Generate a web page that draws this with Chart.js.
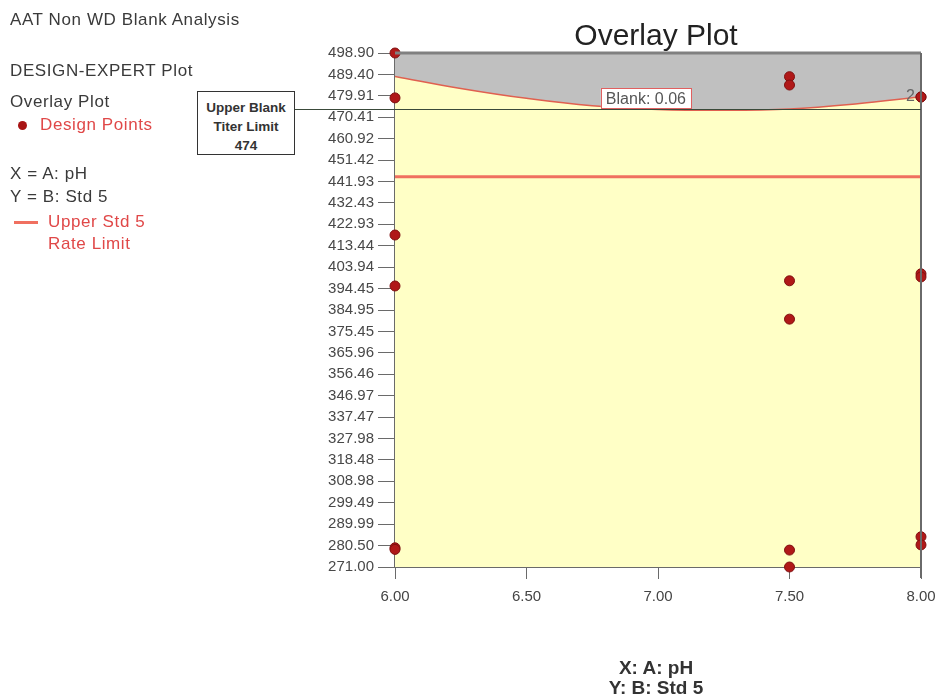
<!DOCTYPE html>
<html>
<head>
<meta charset="utf-8">
<script src="https://cdn.jsdelivr.net/npm/chart.js@4.4.0/dist/chart.umd.min.js"></script>
<style>
  body { margin: 0; background: #fff; font-family: "Liberation Sans", Arial, sans-serif; }
  #wrap { position: relative; width: 936px; height: 700px; }
  canvas { position: absolute; left: 0; top: 0; }
  .t { position: absolute; white-space: nowrap; color: #3a3a3a; font-size: 17px; line-height: 20px; letter-spacing: 0.6px; }
  .red { color: #e04848; }
  #box { position: absolute; left: 197px; top: 91px; width: 98px; height: 64px; border: 1px solid #333;
         background: #fff; font-size: 13.5px; font-weight: bold; color: #333; text-align: center; line-height: 19px; padding-top: 6px; box-sizing: border-box; }
  #title { position: absolute; left: 506px; width: 300px; top: 20px; line-height: 30px; text-align: center; font-size: 30px; color: #222; }
  .axt { position: absolute; left: 506px; width: 300px; text-align: center; font-size: 19px; line-height: 20px; font-weight: bold; color: #333; }
</style>
</head>
<body>
<div id="wrap">
  <canvas id="chart" width="936" height="700"></canvas>
  <div class="t" style="left:10px;top:10px">AAT Non WD Blank Analysis</div>
  <div class="t" style="left:10px;top:61px">DESIGN-EXPERT Plot</div>
  <div class="t" style="left:10px;top:92px">Overlay Plot</div>
  <div style="position:absolute;left:18px;top:121px;width:9px;height:9px;border-radius:50%;background:#a81414"></div>
  <div class="t red" style="left:40px;top:115px">Design Points</div>
  <div class="t" style="left:10px;top:164px">X = A: pH</div>
  <div class="t" style="left:10px;top:187px">Y = B: Std 5</div>
  <div style="position:absolute;left:14px;top:221px;width:24px;height:3px;background:#f07060"></div>
  <div class="t red" style="left:48px;top:212px">Upper Std 5</div>
  <div class="t red" style="left:48px;top:234px">Rate Limit</div>
  <div id="box">Upper Blank<br>Titer Limit<br>474</div>
  <div id="title">Overlay Plot</div>
  <div class="axt" style="top:658px">X: A: pH</div>
  <div class="axt" style="top:678px">Y: B: Std 5</div>
</div>
<script>
// tick labels
const xTickLabels = ['6.00', '6.50', '7.00', '7.50', '8.00'];
const yTickLabels = ['271.00', '280.50', '289.99', '299.49', '308.98', '318.48', '327.98', '337.47',
  '346.97', '356.46', '365.96', '375.45', '384.95', '394.45', '403.94', '413.44', '422.93', '432.43',
  '441.93', '451.42', '460.92', '470.41', '479.91', '489.40', '498.90'];

// design points (pH, Std 5)
const pointsPH =  [6.00, 6.00, 6.00, 6.00, 6.00, 6.00, 7.50, 7.50, 7.50, 7.50, 7.50, 7.50, 8.00, 8.00, 8.00, 8.00, 8.00, 8.00];
const pointsStd = [498.9, 479.0, 418.2, 395.6, 279.5, 278.8, 488.4, 484.7, 397.9, 380.9, 278.5, 271.0, 479.4, 479.4, 401.0, 399.6, 284.4, 280.8];

// upper blank titer limit contour (Blank 0.06)
const blankPH =  [6.00, 6.25, 6.50, 6.75, 7.00, 7.25, 7.50, 7.75, 8.00];
const blankStd = [488.5, 483.2, 478.8, 475.5, 473.9, 473.5, 474.1, 476.3, 479.5];

// upper std 5 rate limit
const stdLimitPH = [6.00, 8.00];
const stdLimit = [444.0, 444.0];
const blankLimit = 474;

const yMin = parseFloat(yTickLabels[0]);
const yMax = parseFloat(yTickLabels[yTickLabels.length - 1]);

const zip = (xs, ys) => xs.map((x, i) => ({ x: x, y: ys[i] }));

const overlay = {
    id: 'overlay',
    beforeDatasetsDraw(chart) {
        const { ctx, chartArea: a } = chart;
        ctx.save();
        ctx.fillStyle = '#ffffc6';
        ctx.fillRect(a.left, a.top, a.right - a.left, a.bottom - a.top);
        ctx.restore();
    },
    afterDatasetsDraw(chart) {
        const { ctx, chartArea: a, scales } = chart;
        const xs = scales.x, ys = scales.y;
        ctx.save();
        // frame top/right
        ctx.strokeStyle = '#808080';
        ctx.lineWidth = 3;
        ctx.beginPath();
        ctx.moveTo(a.left, a.top);
        ctx.lineTo(a.right, a.top);
        ctx.stroke();
        ctx.lineWidth = 2;
        ctx.strokeStyle = '#6a6a6a';
        ctx.beginPath();
        ctx.moveTo(a.right, a.top);
        ctx.lineTo(a.right, a.bottom + 11);
        ctx.stroke();
        // upper blank limit line from box
        const box = document.getElementById('box');
        const bx = box.offsetLeft + box.offsetWidth;
        const y474 = Math.round(ys.getPixelForValue(blankLimit)) + 0.5;
        ctx.strokeStyle = '#3a4a3a';
        ctx.lineWidth = 1;
        ctx.beginPath();
        ctx.moveTo(bx, y474);
        ctx.lineTo(a.right, y474);
        ctx.stroke();
        // Blank label
        const lx = xs.getPixelForValue(6.954), ly = ys.getPixelForValue(blankLimit) - 11;
        ctx.font = '16px "Liberation Sans", Arial';
        const txt = 'Blank: 0.06';
        const w = ctx.measureText(txt).width + 10;
        ctx.fillStyle = '#fff';
        ctx.fillRect(lx - w / 2, ly - 10, w, 20);
        ctx.strokeStyle = '#e06060';
        ctx.strokeRect(Math.round(lx - w / 2) + 0.5, Math.round(ly - 10) + 0.5, Math.round(w), 20);
        ctx.fillStyle = '#555';
        ctx.textAlign = 'center';
        ctx.textBaseline = 'middle';
        ctx.fillText(txt, lx, ly + 1);
        // "2" marker for duplicated point
        ctx.font = '16px "Liberation Sans", Arial';
        ctx.fillStyle = '#666';
        ctx.textAlign = 'right';
        ctx.fillText('2', xs.getPixelForValue(8.0) - 6, ys.getPixelForValue(479.4));
        ctx.restore();
    }
};

new Chart(document.getElementById('chart'), {
    type: 'scatter',
    data: {
        datasets: [{
            label: 'Design Points',
            data: zip(pointsPH, pointsStd),
            backgroundColor: '#b01818',
            borderColor: '#801010',
            borderWidth: 1,
            pointRadius: 5,
            clip: false,
            order: 0
        }, {
            label: 'Upper Std 5 Rate Limit',
            type: 'line',
            data: zip(stdLimitPH, stdLimit),
            borderColor: '#f07060',
            borderWidth: 3,
            pointRadius: 0,
            fill: false,
            order: 1
        }, {
            label: 'Blank 0.06',
            type: 'line',
            data: zip(blankPH, blankStd),
            borderColor: '#e06050',
            borderWidth: 1.5,
            backgroundColor: '#c0c0c0',
            pointRadius: 0,
            tension: 0.4,
            fill: 'end',
            order: 2
        }]
    },
    options: {
        responsive: false,
        animation: false,
        layout: { padding: { left: 0, right: 15, top: 53, bottom: 93 } },
        plugins: { legend: { display: false }, tooltip: { enabled: false } },
        scales: {
            x: {
                type: 'linear',
                min: 6, max: 8,
                afterBuildTicks: s => { s.ticks = xTickLabels.map(v => ({ value: parseFloat(v) })); },
                afterFit: s => { s.height = 40; s.paddingLeft = 0; s.paddingRight = 0; },
                ticks: {
                    callback: (v, i) => xTickLabels[i],
                    color: '#444',
                    font: { family: '"Liberation Sans", Arial', size: 15 },
                    padding: 9,
                    maxRotation: 0
                },
                grid: { drawOnChartArea: false, drawTicks: true, tickLength: 12, color: '#6a6a6a' },
                border: { display: true, color: '#6a6a6a', width: 2 }
            },
            y: {
                type: 'linear',
                min: yMin, max: yMax,
                afterBuildTicks: s => { s.ticks = yTickLabels.map(v => ({ value: parseFloat(v) })); },
                afterFit: s => { s.width = 395; },
                ticks: {
                    callback: (v, i) => yTickLabels[i],
                    color: '#484848',
                    font: { family: '"Liberation Sans", Arial', size: 15 },
                    padding: 4,
                    autoSkip: false
                },
                grid: { drawOnChartArea: false, drawTicks: true, tickLength: 17, color: '#6a6a6a' },
                border: { display: true, color: '#6a6a6a', width: 2 }
            }
        }
    },
    plugins: [overlay]
});
</script>
</body>
</html>
